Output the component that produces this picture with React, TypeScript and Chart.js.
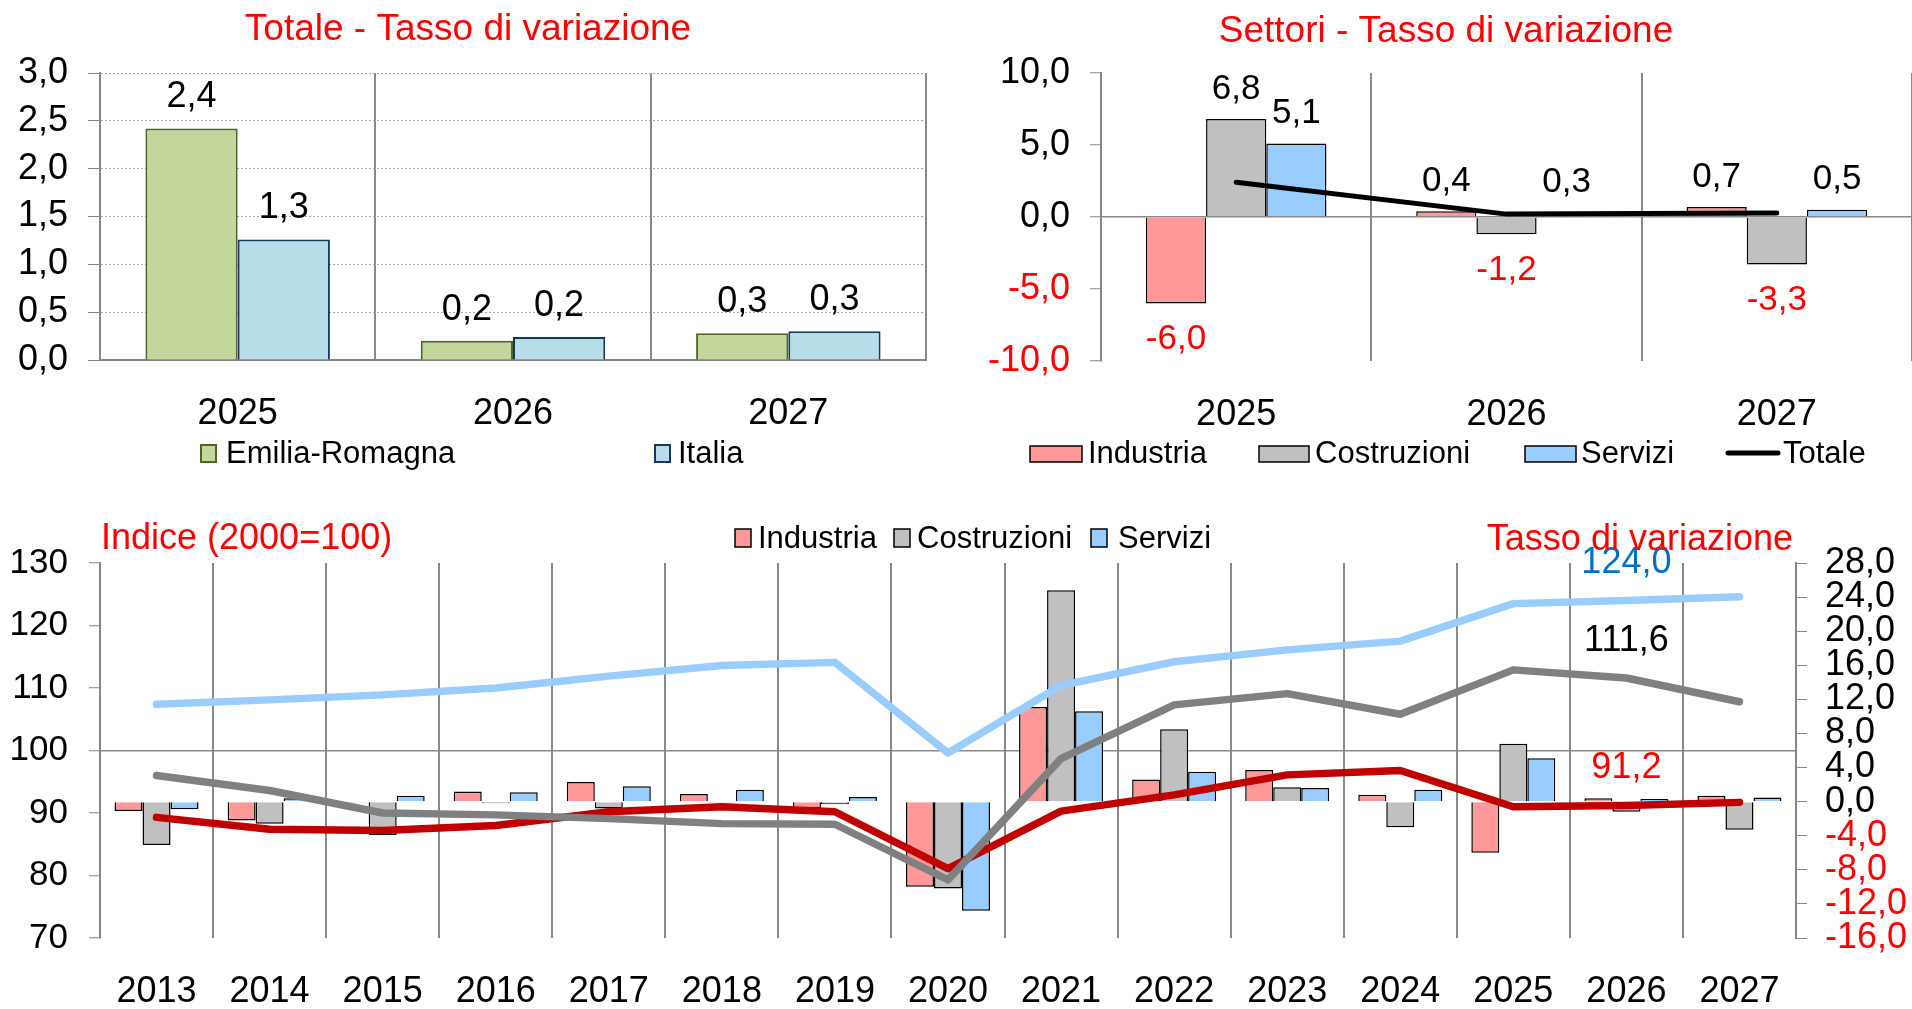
import React, { useEffect, useRef } from "react";
import { Chart, registerables } from "chart.js";

Chart.register(...registerables);

const FONT = "'Liberation Sans', Arial, Helvetica, sans-serif";
Chart.defaults.font.family = FONT;

// ---------- Panel 1: Totale - Tasso di variazione ----------
const totalYears = ["2025", "2026", "2027"];
const totalSeriesNames = ["Emilia-Romagna", "Italia"];
const totalER = [2.42, 0.2, 0.28];
const totalIT = [1.26, 0.24, 0.3];

// ---------- Panel 2: Settori - Tasso di variazione ----------
const sectorYears = ["2025", "2026", "2027"];
const sectorNames = ["Industria", "Costruzioni", "Servizi", "Totale"];
const sectorIndustria = [-6.0, 0.4, 0.7];
const sectorCostruzioni = [6.8, -1.2, -3.3];
const sectorServizi = [5.1, 0.3, 0.5];
const sectorTotale = [2.42, 0.2, 0.28];

// ---------- Panel 3: Indice (2000=100) and Tasso di variazione ----------
const indexYears = [
  "2013", "2014", "2015", "2016", "2017", "2018", "2019", "2020",
  "2021", "2022", "2023", "2024", "2025", "2026", "2027",
];
const indexIndustria = [89.3, 87.4, 87.2, 88.0, 90.2, 91.0, 90.2, 81.1, 90.3, 92.9, 96.1, 96.8, 91.0, 91.2, 91.7];
const indexCostruzioni = [96.0, 93.6, 90.0, 89.7, 89.1, 88.3, 88.2, 79.3, 98.7, 107.3, 109.1, 105.8, 112.9, 111.6, 107.8];
const indexServizi = [107.4, 108.1, 108.9, 110.0, 111.9, 113.6, 114.1, 99.6, 110.4, 114.2, 116.1, 117.5, 123.5, 124.0, 124.6];
const rateIndustria = [-1.1, -2.2, -0.1, 1.2, 2.3, 0.9, -0.8, -10.0, 11.1, 2.6, 3.7, 0.8, -6.0, 0.4, 0.7];
const rateCostruzioni = [-5.1, -2.6, -3.9, -0.2, -0.8, -0.1, -0.3, -10.2, 24.8, 8.5, 1.7, -3.0, 6.8, -1.2, -3.3];
const rateServizi = [-0.9, 0.4, 0.7, 1.1, 1.8, 1.4, 0.55, -12.8, 10.6, 3.5, 1.6, 1.4, 5.1, 0.3, 0.5];
const labelledYear = "2026";

// ---------- styles ----------
const RED = "#ff0000";
const GRID = "#8a8a8a";
const AXIS = "#868686";
const ER_FILL = "#c3d69b";
const ER_LINE = "#4f6228";
const IT_FILL = "#b7dde8";
const IT_LINE = "#17375e";
const PINK = "#ff9999";
const GREY = "#c0c0c0";
const LBLUE = "#99ccff";
const DARKRED = "#c00000";
const DGREY = "#808080";

const fmt = (v: number, d = 1) => Number(v).toFixed(d).replace(".", ",");

function makeOverlay(id: string, items: any[]) {
  return {
    id,
    afterDraw(chart: any) {
      const ctx = chart.ctx;
      ctx.save();
      for (const it of items) {
        if (it.kind === "box") {
          ctx.fillStyle = it.fill;
          ctx.fillRect(it.x, it.y, it.w, it.h);
          ctx.lineWidth = it.lw;
          ctx.strokeStyle = it.stroke;
          ctx.strokeRect(it.x, it.y, it.w, it.h);
        } else if (it.kind === "line") {
          ctx.beginPath();
          ctx.lineCap = "round";
          ctx.lineWidth = it.lw;
          ctx.strokeStyle = it.color;
          ctx.moveTo(it.x1, it.y);
          ctx.lineTo(it.x2, it.y);
          ctx.stroke();
        } else {
          ctx.font = `${it.size}px ${FONT}`;
          ctx.fillStyle = it.color;
          ctx.textAlign = it.align || "left";
          ctx.textBaseline = "alphabetic";
          ctx.fillText(it.text, it.x, it.y);
        }
      }
      ctx.restore();
    },
  };
}

const baseOptions = {
  responsive: false,
  maintainAspectRatio: false,
  animation: false,
  devicePixelRatio: 1,
  events: [],
};

export default function App() {
  const refA = useRef<HTMLCanvasElement | null>(null);
  const refB = useRef<HTMLCanvasElement | null>(null);
  const refC = useRef<HTMLCanvasElement | null>(null);

  useEffect(() => {
    // ----- Chart A -----
    const labelsA = {
      id: "labelsA",
      afterDatasetsDraw(chart: any) {
        const ctx = chart.ctx;
        ctx.save();
        ctx.font = `36px ${FONT}`;
        ctx.fillStyle = "#000";
        ctx.textAlign = "center";
        ctx.textBaseline = "middle";
        chart.data.datasets.forEach((ds: any, i: number) => {
          const meta = chart.getDatasetMeta(i);
          meta.data.forEach((el: any, j: number) => {
            ctx.fillText(fmt(ds.data[j]), el.x, el.y - 31);
          });
        });
        ctx.restore();
      },
    };
    const overlayA = makeOverlay("overlayA", [
      { kind: "text", text: "Totale - Tasso di variazione", x: 468, y: 40, size: 37, color: RED, align: "center" },
      { kind: "box", x: 201, y: 445, w: 15, h: 17, fill: ER_FILL, stroke: ER_LINE, lw: 2 },
      { kind: "text", text: totalSeriesNames[0], x: 226, y: 463, size: 31, color: "#000" },
      { kind: "box", x: 655, y: 445, w: 15, h: 17, fill: IT_FILL, stroke: IT_LINE, lw: 2 },
      { kind: "text", text: totalSeriesNames[1], x: 678, y: 463, size: 31, color: "#000" },
    ]);
    const chartA = new Chart(refA.current as HTMLCanvasElement, {
      type: "bar",
      data: {
        labels: totalYears,
        datasets: [
          { label: totalSeriesNames[0], data: totalER, backgroundColor: ER_FILL, borderColor: ER_LINE, borderWidth: 2, categoryPercentage: 0.67, barPercentage: 1 },
          { label: totalSeriesNames[1], data: totalIT, backgroundColor: IT_FILL, borderColor: IT_LINE, borderWidth: 2, categoryPercentage: 0.67, barPercentage: 1 },
        ],
      },
      options: {
        ...baseOptions,
        layout: { padding: { top: 73, right: 29, bottom: 0, left: 0 } },
        plugins: { legend: { display: false }, tooltip: { enabled: false } },
        scales: {
          x: {
            offset: true,
            grid: { offset: true, color: GRID, lineWidth: 2, drawTicks: false },
            border: { display: true, color: AXIS, width: 2 },
            ticks: { color: "#000", font: { size: 36 }, padding: 32, autoSkip: false, maxRotation: 0 },
            afterFit: (s: any) => { s.height = 120; },
          },
          y: {
            min: 0,
            max: 3,
            ticks: { stepSize: 0.5, autoSkip: false, color: "#000", font: { size: 36 }, padding: 20, callback: (v: any) => fmt(v) },
            grid: { color: "#a6a6a6", lineWidth: 1, tickLength: 12, tickColor: AXIS, tickWidth: 1 },
            border: { color: AXIS, width: 2, dash: [2, 2] },
            afterFit: (s: any) => { s.width = 100; },
          },
        },
      } as any,
      plugins: [labelsA, overlayA],
    } as any);

    // ----- Chart B -----
    const OX = 957;
    const labelsB = {
      id: "labelsB",
      afterDatasetsDraw(chart: any) {
        const ctx = chart.ctx;
        ctx.save();
        ctx.font = `35px ${FONT}`;
        ctx.textAlign = "center";
        ctx.textBaseline = "middle";
        chart.data.datasets.forEach((ds: any, i: number) => {
          const meta = chart.getDatasetMeta(i);
          if (meta.type !== "bar") return;
          meta.data.forEach((el: any, j: number) => {
            const v = ds.data[j];
            if (v < 0) {
              ctx.fillStyle = RED;
              ctx.fillText(fmt(v), el.x, el.y + 36);
            } else {
              ctx.fillStyle = "#000";
              ctx.fillText(fmt(v), el.x, el.y - 30);
            }
          });
        });
        ctx.restore();
      },
    };
    const overlayB = makeOverlay("overlayB", [
      { kind: "text", text: "Settori - Tasso di variazione", x: 1446 - OX, y: 42, size: 37, color: RED, align: "center" },
      { kind: "box", x: 1030 - OX, y: 446, w: 52, h: 16, fill: PINK, stroke: "#000", lw: 1.5 },
      { kind: "text", text: sectorNames[0], x: 1088 - OX, y: 463, size: 31, color: "#000" },
      { kind: "box", x: 1259 - OX, y: 446, w: 50, h: 16, fill: GREY, stroke: "#000", lw: 1.5 },
      { kind: "text", text: sectorNames[1], x: 1315 - OX, y: 463, size: 31, color: "#000" },
      { kind: "box", x: 1525 - OX, y: 446, w: 51, h: 16, fill: LBLUE, stroke: "#000", lw: 1.5 },
      { kind: "text", text: sectorNames[2], x: 1581 - OX, y: 463, size: 31, color: "#000" },
      { kind: "line", x1: 1728 - OX, x2: 1778 - OX, y: 453, lw: 5, color: "#000" },
      { kind: "text", text: sectorNames[3], x: 1783 - OX, y: 463, size: 31, color: "#000" },
    ]);
    const chartB = new Chart(refB.current as HTMLCanvasElement, {
      type: "bar",
      data: {
        labels: sectorYears,
        datasets: [
          { type: "line", label: sectorNames[3], data: sectorTotale, borderColor: "#000", borderWidth: 5, pointRadius: 0, borderCapStyle: "round", borderJoinStyle: "round", order: 0 },
          { label: sectorNames[0], data: sectorIndustria, backgroundColor: PINK, borderColor: "#000", borderWidth: 1.5, categoryPercentage: 0.668, barPercentage: 1, order: 1 },
          { label: sectorNames[1], data: sectorCostruzioni, backgroundColor: GREY, borderColor: "#000", borderWidth: 1.5, categoryPercentage: 0.668, barPercentage: 1, order: 1 },
          { label: sectorNames[2], data: sectorServizi, backgroundColor: LBLUE, borderColor: "#000", borderWidth: 1.5, categoryPercentage: 0.668, barPercentage: 1, order: 1 },
        ],
      },
      options: {
        ...baseOptions,
        layout: { padding: { top: 73, right: 0, bottom: 0, left: 0 } },
        plugins: { legend: { display: false }, tooltip: { enabled: false } },
        scales: {
          x: {
            offset: true,
            grid: { offset: true, color: GRID, lineWidth: 2, drawTicks: false },
            border: { display: false },
            ticks: { color: "#000", font: { size: 36 }, padding: 32, autoSkip: false, maxRotation: 0 },
            afterFit: (s: any) => { s.height = 119; },
          },
          y: {
            min: -10,
            max: 10,
            ticks: {
              stepSize: 5,
              autoSkip: false,
              font: { size: 36 },
              padding: 20,
              color: (c: any) => (c.tick && c.tick.value < 0 ? RED : "#000"),
              callback: (v: any) => fmt(v),
            },
            grid: {
              color: (c: any) => (c.tick && c.tick.value === 0 ? GRID : "rgba(0,0,0,0)"),
              lineWidth: 1.5,
              tickLength: 11,
              tickColor: AXIS,
              tickWidth: 1,
            },
            border: { color: AXIS, width: 2 },
            afterFit: (s: any) => { s.width = 1101 - OX; },
          },
        },
      } as any,
      plugins: [labelsB, overlayB],
    } as any);

    // ----- Chart C -----
    const OY = 480;
    const labelColors: Record<string, string> = { Servizi: "#0070c0", Costruzioni: "#000000", Industria: RED };
    const labelsC = {
      id: "labelsC",
      afterDatasetsDraw(chart: any) {
        const ctx = chart.ctx;
        const idx = chart.data.labels.indexOf(labelledYear);
        ctx.save();
        ctx.font = `36px ${FONT}`;
        ctx.textAlign = "center";
        ctx.textBaseline = "middle";
        chart.data.datasets.forEach((ds: any, i: number) => {
          const meta = chart.getDatasetMeta(i);
          if (meta.type !== "line") return;
          const el = meta.data[idx];
          ctx.fillStyle = labelColors[ds.label] || "#000";
          ctx.fillText(fmt(ds.data[idx]), el.x, el.y - 37);
        });
        ctx.restore();
      },
    };
    const overlayC = makeOverlay("overlayC", [
      { kind: "text", text: "Indice (2000=100)", x: 101, y: 549 - OY, size: 36, color: RED },
      { kind: "text", text: "Tasso di variazione", x: 1793, y: 550 - OY, size: 36, color: RED, align: "right" },
      { kind: "box", x: 735, y: 529 - OY, w: 16, h: 18, fill: PINK, stroke: "#000", lw: 1.5 },
      { kind: "text", text: "Industria", x: 758, y: 548 - OY, size: 31, color: "#000" },
      { kind: "box", x: 894, y: 529 - OY, w: 16, h: 18, fill: GREY, stroke: "#000", lw: 1.5 },
      { kind: "text", text: "Costruzioni", x: 917, y: 548 - OY, size: 31, color: "#000" },
      { kind: "box", x: 1091, y: 529 - OY, w: 16, h: 18, fill: LBLUE, stroke: "#000", lw: 1.5 },
      { kind: "text", text: "Servizi", x: 1118, y: 548 - OY, size: 31, color: "#000" },
    ]);
    const lineStyle = { type: "line", borderWidth: 7.5, pointRadius: 0, borderCapStyle: "round", borderJoinStyle: "round", tension: 0, yAxisID: "y" };
    const barStyle = { borderColor: "#000", borderWidth: 1.5, categoryPercentage: 0.743, barPercentage: 1, yAxisID: "y1", order: 3 };
    const chartC = new Chart(refC.current as HTMLCanvasElement, {
      type: "bar",
      data: {
        labels: indexYears,
        datasets: [
          { ...lineStyle, label: "Costruzioni", data: indexCostruzioni, borderColor: DGREY, order: 0 },
          { ...lineStyle, label: "Industria", data: indexIndustria, borderColor: DARKRED, order: 1 },
          { ...lineStyle, label: "Servizi", data: indexServizi, borderColor: LBLUE, order: 2 },
          { ...barStyle, label: "Industria %", data: rateIndustria, backgroundColor: PINK },
          { ...barStyle, label: "Costruzioni %", data: rateCostruzioni, backgroundColor: GREY },
          { ...barStyle, label: "Servizi %", data: rateServizi, backgroundColor: LBLUE },
        ],
      },
      options: {
        ...baseOptions,
        layout: { padding: { top: 563 - OY, right: 0, bottom: 0, left: 0 } },
        plugins: { legend: { display: false }, tooltip: { enabled: false } },
        scales: {
          x: {
            offset: true,
            grid: { offset: true, color: GRID, lineWidth: 2, drawTicks: false },
            border: { display: false },
            ticks: { color: "#000", font: { size: 36 }, padding: 32, autoSkip: false, maxRotation: 0 },
            afterFit: (s: any) => { s.height = 1009 - 938; },
          },
          y: {
            position: "left",
            min: 70,
            max: 130,
            ticks: { stepSize: 10, autoSkip: false, color: "#000", font: { size: 35 }, padding: 21, callback: (v: any) => String(v) },
            grid: {
              color: (c: any) => (c.tick && c.tick.value === 100 ? GRID : "rgba(0,0,0,0)"),
              lineWidth: 1.5,
              tickLength: 11,
              tickColor: AXIS,
              tickWidth: 1,
            },
            border: { color: AXIS, width: 2 },
            afterFit: (s: any) => { s.width = 100; },
          },
          y1: {
            position: "right",
            min: -16,
            max: 28,
            ticks: {
              stepSize: 4,
              autoSkip: false,
              font: { size: 36 },
              padding: 18,
              color: (c: any) => (c.tick && c.tick.value < 0 ? RED : "#000"),
              callback: (v: any) => fmt(v),
            },
            grid: { drawOnChartArea: false, tickLength: 11, tickColor: AXIS, tickWidth: 1, color: AXIS },
            border: { color: AXIS, width: 2 },
            afterFit: (s: any) => { s.width = 1912 - 1796; },
          },
        },
      } as any,
      plugins: [labelsC, overlayC],
    } as any);

    return () => {
      chartA.destroy();
      chartB.destroy();
      chartC.destroy();
    };
  }, []);

  return (
    <div style={{ position: "fixed", left: 0, top: 0, width: 1912, height: 1009, background: "#ffffff", overflow: "hidden" }}>
      <canvas ref={refA} width={955} height={480} style={{ position: "absolute", left: 0, top: 0 }} />
      <canvas ref={refB} width={955} height={480} style={{ position: "absolute", left: 957, top: 0 }} />
      <canvas ref={refC} width={1912} height={529} style={{ position: "absolute", left: 0, top: 480 }} />
    </div>
  );
}
